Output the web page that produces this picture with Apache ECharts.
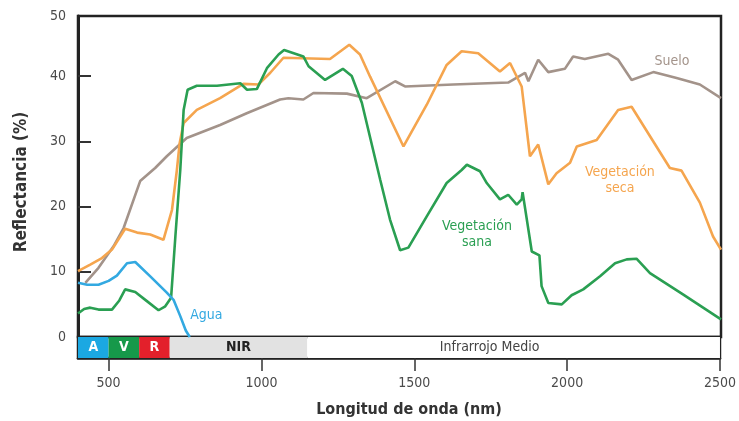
<!DOCTYPE html>
<html><head><meta charset="utf-8">
<script src="https://cdn.jsdelivr.net/npm/echarts@6/dist/echarts.min.js"></script>
<style>html,body{margin:0;padding:0;background:#fff}#c{width:739px;height:421px}</style>
</head><body><div id="c"></div>
<script>
// ---- axes ----
const xMin = 400, xMax = 2500;
const xTicks = [500, 1000, 1500, 2000, 2500];
const yMax = 49.2;                 // top border of the plot box (labelled 50)
const yTickVals = [10, 20, 30, 40];
const yLabelVals = [0, 10, 20, 30, 40, yMax];
const yLabelText = ['0', '10', '20', '30', '40', '50'];

// ---- spectral bands (bar under the plot) ----
const bandNames = ['A', 'V', 'R', 'NIR', 'Infrarrojo Medio'];
const bandStart = [400, 500, 600, 700, 1150];
const bandEnd   = [500, 600, 700, 1150, 2500];

// ---- reflectance curves (wavelength nm / reflectance %) ----
const aguaNm  = [400, 430, 467, 500, 527, 560, 587, 636, 690, 712, 734, 752, 765];
const aguaVal = [8.3, 8.0, 8.0, 8.6, 9.4, 11.3, 11.5, 9.3, 6.8, 5.7, 3.2, 1.0, 0];

const sanaNm  = [400, 420, 440, 467, 511, 535, 554, 587, 625, 663, 685, 704, 718, 734, 745, 758, 788, 854, 930, 952, 984, 1017, 1055, 1073, 1136, 1153, 1207, 1265, 1294, 1327, 1387, 1419, 1452, 1479, 1539, 1604, 1653, 1670, 1713, 1735, 1778, 1805, 1833, 1849, 1852, 1882, 1907, 1914, 1936, 1980, 2012, 2050, 2105, 2154, 2192, 2224, 2268, 2377, 2500];
const sanaVal = [3.6, 4.3, 4.5, 4.2, 4.2, 5.6, 7.3, 6.9, 5.5, 4.1, 4.7, 6.0, 15.4, 25.6, 34.8, 37.9, 38.5, 38.5, 38.9, 37.9, 38.0, 41.2, 43.3, 44.0, 43.0, 41.5, 39.4, 41.1, 40.0, 35.9, 24.1, 18.0, 13.3, 13.7, 18.5, 23.6, 25.6, 26.4, 25.4, 23.6, 21.1, 21.8, 20.3, 21.1, 22.2, 13.1, 12.5, 7.8, 5.2, 5.0, 6.4, 7.3, 9.3, 11.3, 11.9, 12.0, 9.8, 6.5, 2.7];

const secaNm  = [400, 440, 478, 511, 554, 593, 636, 679, 707, 723, 732, 745, 788, 864, 940, 989, 1028, 1071, 1223, 1286, 1321, 1354, 1463, 1539, 1604, 1653, 1707, 1778, 1811, 1849, 1876, 1903, 1936, 1963, 2007, 2029, 2094, 2164, 2208, 2333, 2371, 2431, 2474, 2500];
const secaVal = [10.1, 11.1, 12.1, 13.4, 16.6, 16.0, 15.7, 14.9, 19.5, 25.6, 29.7, 32.8, 34.8, 36.6, 38.8, 38.7, 40.5, 42.8, 42.6, 44.8, 43.3, 39.9, 29.2, 35.6, 41.7, 43.8, 43.5, 40.7, 42.0, 38.4, 27.7, 29.5, 23.4, 25.1, 26.7, 29.2, 30.2, 34.8, 35.3, 25.9, 25.5, 20.6, 15.4, 13.4];

const sueloNm  = [424, 467, 516, 549, 603, 652, 690, 755, 864, 951, 1060, 1087, 1136, 1169, 1278, 1343, 1436, 1468, 1626, 1805, 1860, 1871, 1903, 1936, 1990, 2017, 2055, 2132, 2164, 2208, 2279, 2355, 2431, 2500];
const sueloVal = [8.3, 10.6, 13.9, 16.7, 23.9, 25.9, 27.7, 30.5, 32.5, 34.3, 36.4, 36.6, 36.4, 37.4, 37.3, 36.6, 39.2, 38.4, 38.7, 39.0, 40.5, 39.2, 42.5, 40.6, 41.1, 43.0, 42.6, 43.4, 42.5, 39.4, 40.6, 39.7, 38.7, 36.6];

// ---- curve annotations [label, nm, reflectance] ----
const curveLabels = ['Suelo', 'Vegetación\nseca', 'Vegetación\nsana', 'Agua'];
const labelNm  = [2340, 2170, 1703, 819];
const labelVal = [42.3, 24.0, 15.7, 3.3];

// ---- styles ----
const FONT = '"Liberation Sans Narrow", "DejaVu Sans Condensed", "Liberation Sans", sans-serif';
const colAgua = '#33a9e1', colSana = '#2a9f52', colSeca = '#f5a54e', colSuelo = '#a3938a';
const labelColors = [colSuelo, colSeca, colSana, colAgua];
const bandFill = ['#1ba8e2', '#16994a', '#e3202b', '#e2e2e2', '#ffffff'];
const bandText = ['#ffffff', '#ffffff', '#ffffff', '#222222', '#444444'];
const bandWeight = ['bold', 'bold', 'bold', 'bold', 'normal'];
const bandOffset = [[0,0],[0,0],[0,0],[0,0],[-24,0]];

const zip = (a, b) => a.map((v, i) => [v, b[i]]);

function lineSeries(name, nm, val, color, labelIdx) {
  return {
    name, type: 'line', xAxisIndex: 0, yAxisIndex: 0,
    data: zip(nm, val), showSymbol: false, symbol: 'none', silent: true,
    lineStyle: { color, width: 2.6 }, z: 3,
    markPoint: labelIdx == null ? undefined : {
      silent: true, symbol: 'circle', symbolSize: 0,
      label: { show: true, position: 'inside', color: labelColors[labelIdx], fontFamily: FONT,
               fontSize: 14, lineHeight: 16, align: 'center', verticalAlign: 'middle',
               formatter: () => curveLabels[labelIdx] },
      data: [{ coord: [labelNm[labelIdx], labelVal[labelIdx]] }]
    }
  };
}

const chart = echarts.init(document.getElementById('c'), null, { renderer: 'canvas' });
chart.setOption({
  backgroundColor: '#ffffff',
  animation: false,
  textStyle: { fontFamily: FONT },
  grid: [
    { left: 78, right: 18, top: 16, height: 321, show: true, borderColor: '#222', borderWidth: 2.5, containLabel: false },
    { left: 78, right: 18, top: 337, height: 21, show: true, borderColor: '#222', borderWidth: 2.5, containLabel: false }
  ],
  xAxis: [
    { type: 'value', gridIndex: 0, min: xMin, max: xMax, axisLine: { show: false }, axisTick: { show: false },
      axisLabel: { show: false }, splitLine: { show: false } },
    { type: 'value', gridIndex: 1, min: xMin, max: xMax, position: 'bottom',
      axisLine: { show: true, lineStyle: { color: '#222', width: 2.5 } },
      axisTick: { show: true, length: 13, inside: false, customValues: xTicks, lineStyle: { color: '#333', width: 1.5 } },
      axisLabel: { show: true, customValues: xTicks, margin: 18, color: '#4a4a4a', fontSize: 14, fontFamily: FONT,
                   formatter: (v) => String(v) },
      splitLine: { show: false },
      name: 'Longitud de onda (nm)', nameLocation: 'middle', nameGap: 44,
      nameTextStyle: { fontSize: 16, fontWeight: 'bold', color: '#333', fontFamily: FONT, padding: [0, 0, 0, 20] } }
  ],
  yAxis: [
    { type: 'value', gridIndex: 0, min: 0, max: yMax,
      axisLine: { show: true, lineStyle: { color: '#222', width: 3 } },
      axisTick: { show: true, inside: true, length: 13, customValues: yTickVals, lineStyle: { color: '#333', width: 2 } },
      axisLabel: { show: true, customValues: yLabelVals, margin: 12, color: '#4a4a4a', fontSize: 14, fontFamily: FONT,
                   formatter: (v) => { const i = yLabelVals.findIndex(t => Math.abs(t - v) < 1e-6); return i >= 0 ? yLabelText[i] : ''; } },
      splitLine: { show: false },
      name: 'Reflectancia (%)', nameLocation: 'middle', nameGap: 48, nameRotate: 90,
      nameTextStyle: { fontSize: 17, fontWeight: 'bold', color: '#333', fontFamily: FONT, padding: [0, 11, 0, 0] } },
    { type: 'value', gridIndex: 1, min: 0, max: 1, show: false }
  ],
  series: [
    {
      type: 'line', xAxisIndex: 1, yAxisIndex: 1, data: [[xMin, 0]], symbol: 'none', silent: true,
      lineStyle: { opacity: 0 }, z: 1,
      markArea: {
        silent: true,
        data: bandNames.map((n, i) => [
          { xAxis: bandStart[i], name: n,
            itemStyle: { color: bandFill[i], opacity: 1 },
            label: { show: true, position: 'inside', color: bandText[i], fontWeight: bandWeight[i],
                     fontSize: 14, fontFamily: FONT, offset: bandOffset[i] } },
          { xAxis: bandEnd[i] }
        ])
      }
    },
    lineSeries('Suelo', sueloNm, sueloVal, colSuelo, 0),
    lineSeries('Vegetación seca', secaNm, secaVal, colSeca, 1),
    lineSeries('Vegetación sana', sanaNm, sanaVal, colSana, 2),
    lineSeries('Agua', aguaNm, aguaVal, colAgua, 3)
  ]
});
</script></body></html>
